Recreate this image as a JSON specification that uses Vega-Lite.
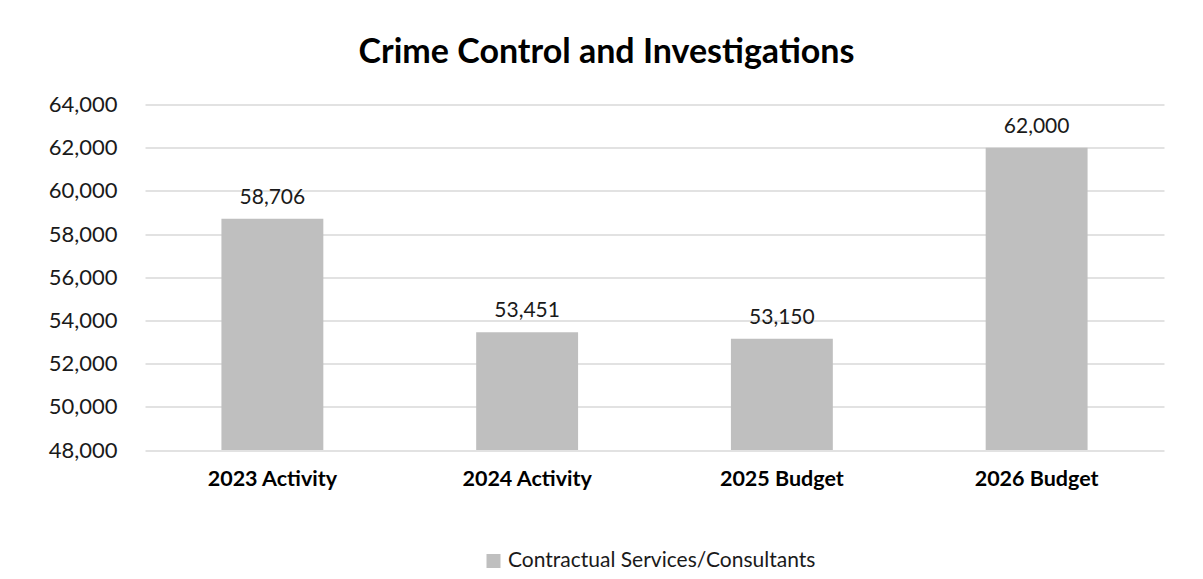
{
  "$schema": "https://vega.github.io/schema/vega-lite/v6.json",
  "width": 1019,
  "height": 345.5,
  "autosize": {"type": "none"},
  "padding": {"left": 145, "top": 104.5, "right": 39, "bottom": 129},
  "background": "white",
  "title": {
    "text": "Crime Control and Investigations",
    "font": "Lato",
    "fontSize": 34,
    "fontWeight": "bold",
    "color": "#000000",
    "anchor": "middle",
    "baseline": "alphabetic",
    "offset": -3,
    "dx": -48
  },
  "data": {
    "values": [
      {"category": "2023 Activity", "value": 58706, "series": "Contractual Services/Consultants"},
      {"category": "2024 Activity", "value": 53451, "series": "Contractual Services/Consultants"},
      {"category": "2025 Budget", "value": 53150, "series": "Contractual Services/Consultants"},
      {"category": "2026 Budget", "value": 62000, "series": "Contractual Services/Consultants"}
    ]
  },
  "encoding": {
    "x": {
      "field": "category",
      "type": "nominal",
      "sort": null,
      "scale": {"paddingInner": 0.6, "paddingOuter": 0.3},
      "axis": {
        "title": null,
        "labelAngle": 0,
        "domain": false,
        "ticks": false,
        "labelFont": "Lato",
        "labelFontSize": 21.5,
        "labelFontWeight": "bold",
        "labelColor": "#000000",
        "labelPadding": 18
      }
    }
  },
  "layer": [
    {
      "mark": {"type": "bar", "color": "#bfbfbf"},
      "encoding": {
        "y": {
          "field": "value",
          "type": "quantitative",
          "scale": {"domain": [48000, 64000], "zero": false, "nice": false},
          "axis": {
            "title": null,
            "values": [48000, 50000, 52000, 54000, 56000, 58000, 60000, 62000, 64000],
            "format": ",d",
            "domain": false,
            "ticks": false,
            "grid": true,
            "gridColor": "#d9d9d9",
            "gridWidth": 1.5,
            "labelFont": "Lato",
            "labelFontSize": 22,
            "labelColor": "#1a1a1a",
            "labelPadding": 28
          }
        },
        "y2": {"datum": 48000},
        "color": {
          "field": "series",
          "type": "nominal",
          "scale": {"range": ["#bfbfbf"]},
          "legend": {
            "title": null,
            "orient": "none",
            "legendX": 338,
            "legendY": 446,
            "padding": 0,
            "symbolType": "square",
            "symbolSize": 196,
            "symbolStrokeWidth": 0,
            "symbolOpacity": 1,
            "labelFont": "Lato",
            "labelFontSize": 21,
            "labelLimit": 500,
            "labelColor": "#1a1a1a",
            "labelOffset": 4
          }
        }
      }
    },
    {
      "mark": {
        "type": "text",
        "font": "Lato",
        "fontSize": 21,
        "color": "#1a1a1a",
        "baseline": "alphabetic",
        "dy": -15
      },
      "encoding": {
        "y": {"field": "value", "type": "quantitative"},
        "text": {"field": "value", "type": "quantitative", "format": ",d"}
      }
    }
  ],
  "config": {
    "view": {"stroke": null}
  }
}
